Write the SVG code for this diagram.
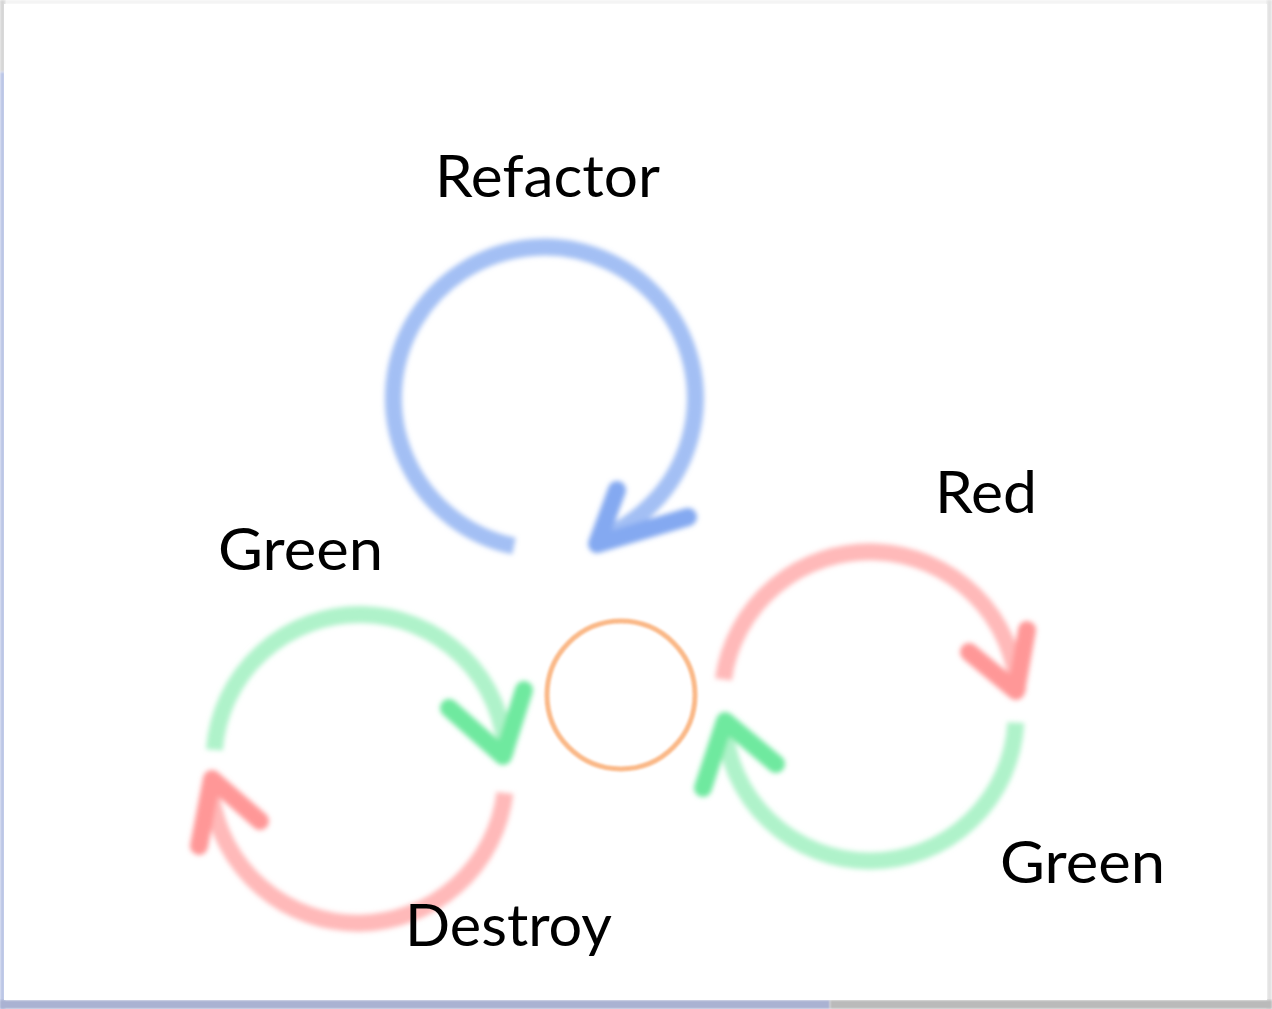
<svg xmlns="http://www.w3.org/2000/svg" width="1272" height="1009" viewBox="0 0 1272 1009">
  <defs>
    <filter id="blur" x="-20%" y="-20%" width="140%" height="140%">
      <feGaussianBlur stdDeviation="2.8"/>
    </filter>
    <filter id="soft" x="-5%" y="-5%" width="110%" height="110%">
      <feGaussianBlur stdDeviation="1"/>
    </filter>
    <style>
      .lbl { font-family: Lato, "Open Sans", "DejaVu Sans", sans-serif; font-size: 58px; fill: #000; }
      .arc { fill: none; stroke-width: 17; stroke-linecap: butt; }
      .head { fill: none; stroke-width: 18; stroke-linecap: round; stroke-linejoin: round; }
      .blue { stroke: #93b4f2; }
      .blueh { stroke: #6f9bef; }
      .green { stroke: #a2f0c1; }
      .greenh { stroke: #55e58f; }
      .red { stroke: #ffadad; }
      .redh { stroke: #ff8585; }
    </style>
  </defs>

  <g id="frame">
    <rect x="0" y="0" width="1272" height="1009" fill="#ffffff"/>
    <rect x="0" y="0" width="1272" height="4" fill="#f3f3f3" filter="url(#soft)"/>
    <rect x="0" y="0" width="5" height="72" fill="#d6d6d6" filter="url(#soft)"/>
    <rect x="0" y="72" width="5" height="937" fill="#bcc6e6" filter="url(#soft)"/>
    <rect x="1267" y="0" width="5" height="1009" fill="#e2e2e2" filter="url(#soft)"/>
    <rect x="0" y="1000" width="830" height="9" fill="#aab2d2" filter="url(#soft)"/>
    <rect x="830" y="1000" width="442" height="9" fill="#bababa" filter="url(#soft)"/>
    <rect x="4" y="4" width="1263" height="996" fill="#ffffff"/>
  </g>

  <g id="connectors" filter="url(#blur)">
    <!-- Refactor loop (blue) -->
    <g id="refactor-loop" opacity="0.85">
      <path class="arc blue" d="M 514 546 A 151 151 0 1 1 596 540"/>
      <path class="head blueh" d="M 617 490 L 597 544 L 688 517"/>
    </g>
    <!-- Left green loop -->
    <g id="left-green-loop" opacity="0.85">
      <path class="arc green" d="M 214.4 749.8 A 146 146 0 0 1 505.9 754.9"/>
      <path class="head greenh" d="M 449 708 L 503 756 L 524 690"/>
    </g>
    <!-- Left red loop (Destroy) -->
    <g id="left-red-loop" opacity="0.85">
      <path class="arc red" d="M 504.9 793 A 148 148 0 0 1 211.4 795.6"/>
      <path class="head redh" d="M 199 846 L 212 779 L 260 821"/>
    </g>
    <!-- Right red loop -->
    <g id="right-red-loop" opacity="0.85">
      <path class="arc red" d="M 723.4 679.4 A 148 148 0 0 1 1017.8 692.3"/>
      <path class="head redh" d="M 969 652 L 1016 691 L 1027 630"/>
    </g>
    <!-- Right green loop -->
    <g id="right-green-loop" opacity="0.85">
      <path class="arc green" d="M 1015.8 722.6 A 146 146 0 0 1 724.2 722.6"/>
      <path class="head greenh" d="M 703 788 L 725 721 L 776 764"/>
    </g>
  </g>

  <g id="center-node">
    <circle cx="621" cy="695" r="74" fill="none" stroke="#f9b07a" stroke-width="5" opacity="0.9" filter="url(#soft)"/>
  </g>

  <g id="label-refactor"><text class="lbl" x="435" y="197" textLength="225" lengthAdjust="spacingAndGlyphs">Refactor</text></g>
  <g id="label-green-left"><text class="lbl" x="218" y="570" textLength="165" lengthAdjust="spacingAndGlyphs">Green</text></g>
  <g id="label-red"><text class="lbl" x="935" y="513" textLength="102" lengthAdjust="spacingAndGlyphs">Red</text></g>
  <g id="label-green-right"><text class="lbl" x="1000" y="883" textLength="165" lengthAdjust="spacingAndGlyphs">Green</text></g>
  <g id="label-destroy"><text class="lbl" x="405" y="946" textLength="207" lengthAdjust="spacingAndGlyphs">Destroy</text></g>
</svg>
